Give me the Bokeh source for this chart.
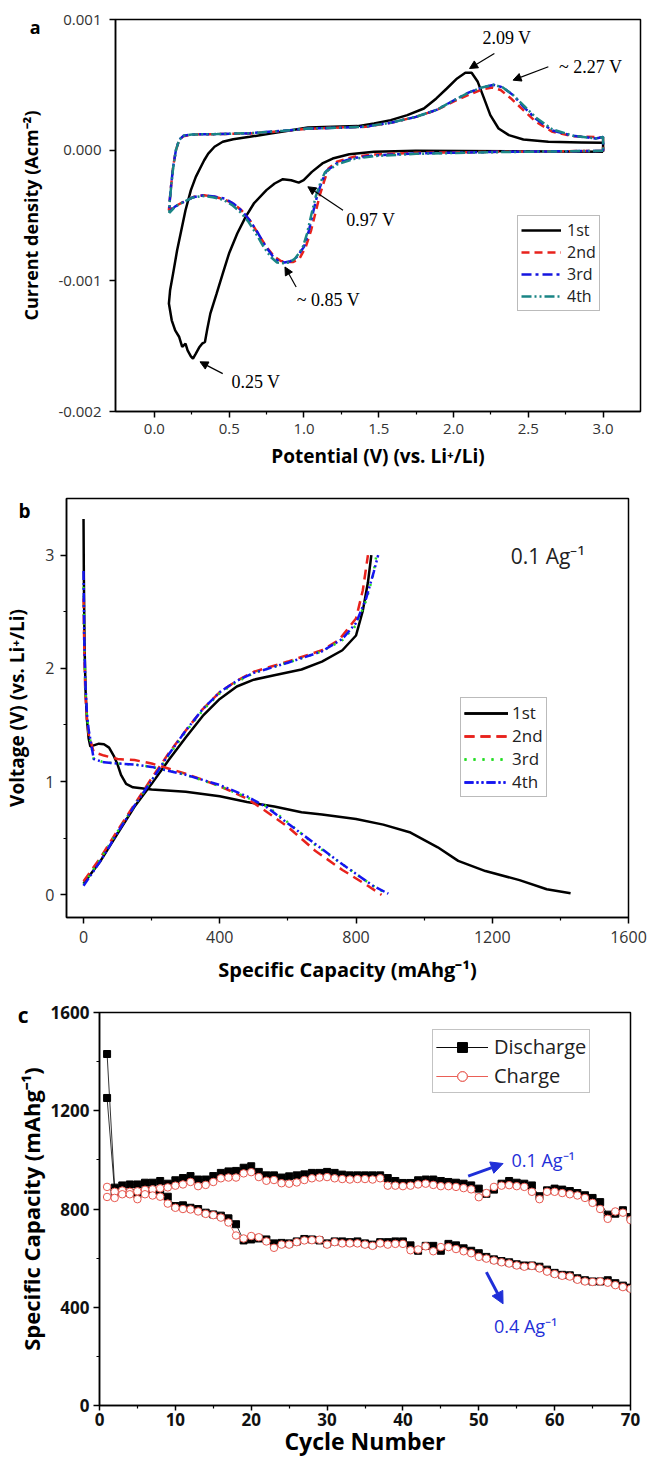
from bokeh.plotting import figure
from bokeh.layouts import column
from bokeh.models import (Range1d, FixedTicker, NumeralTickFormatter, Arrow, NormalHead, LinearAxis,
                          CustomJSTickFormatter)
from bokeh.embed import file_html
from bokeh.resources import INLINE
from bokeh.core.properties import value

# ================= Panel a : cyclic voltammetry =================
a_xticks = [0.0, 0.5, 1.0, 1.5, 2.0, 2.5, 3.0]
a_xminor = [0.25, 0.75, 1.25, 1.75, 2.25, 2.75]
a_yticks = [-0.002, -0.001, 0.0, 0.001]

cv1_v = [3.0, 1.747, 1.469, 1.303, 1.192, 1.123, 1.053, 0.998, 0.965, 0.915, 0.859, 0.804, 0.749,
         0.665, 0.61, 0.554, 0.499, 0.457, 0.416, 0.374, 0.352, 0.338, 0.319, 0.299, 0.277, 0.258,
         0.244, 0.222, 0.208, 0.186, 0.166, 0.139, 0.116, 0.097,
         0.105, 0.125, 0.152, 0.18, 0.208, 0.244, 0.277, 0.305, 0.333, 0.36, 0.402, 0.457, 0.527,
         0.638, 0.776, 0.915, 1.026, 1.192, 1.358, 1.469, 1.58, 1.691, 1.802, 1.885, 1.955, 2.024,
         2.079, 2.121, 2.162, 2.204, 2.246, 2.301, 2.37, 2.467, 2.634, 2.856, 3.0, 3.0]
cv1_i = [-0.000013, -0.000005, -0.000013, -0.000031, -0.000064, -0.000102, -0.000166, -0.00023,
         -0.000248, -0.00023, -0.000222, -0.000255, -0.000306, -0.000408, -0.000511, -0.000638,
         -0.000791, -0.000945, -0.001098, -0.001251, -0.001379, -0.001468, -0.001481, -0.001511,
         -0.001557, -0.001596, -0.001578, -0.001532, -0.001481, -0.001506, -0.00143, -0.001379,
         -0.001302, -0.001174,
         -0.001072, -0.000945, -0.000766, -0.000613, -0.00046, -0.000306, -0.000204, -0.00014,
         -0.000077, -0.000026, 0.000026, 0.000064, 0.000084, 0.000102, 0.000128, 0.000153, 0.000174,
         0.000179, 0.000184, 0.000204, 0.00023, 0.000268, 0.000319, 0.000396, 0.000472, 0.000549,
         0.000592, 0.000592, 0.000523, 0.000396, 0.000268, 0.000166, 0.000115, 0.000082, 0.000064,
         0.000059, 0.000056, -0.000013]

cv2_v = [3.0, 2.301, 1.747, 1.469, 1.331, 1.22, 1.164, 1.137, 1.109, 1.081, 1.048, 1.012, 0.97,
         0.929, 0.887, 0.846, 0.804, 0.749, 0.693, 0.638, 0.582, 0.527, 0.471, 0.402, 0.333, 0.263,
         0.194, 0.139, 0.097,
         0.103, 0.111, 0.125, 0.144, 0.166, 0.194, 0.25, 0.416, 0.638, 0.859, 1.026, 1.248, 1.414,
         1.58, 1.747, 1.885, 1.996, 2.107, 2.19, 2.26, 2.315, 2.384, 2.467, 2.551, 2.662, 2.8, 3.0, 3.0]
cv2_i = [-0.000005, -0.000013, -0.00002, -0.000033, -0.000051, -0.000089, -0.00014, -0.00023,
         -0.000332, -0.00046, -0.000613, -0.00074, -0.00083, -0.000855, -0.000855, -0.000848,
         -0.000817, -0.00074, -0.000638, -0.000536, -0.00046, -0.000408, -0.000378, -0.000357,
         -0.000345, -0.000357, -0.000396, -0.000429, -0.00046,
         -0.000383, -0.000281, -0.000128, 0.0, 0.000077, 0.000107, 0.00012, 0.000123, 0.000128,
         0.000146, 0.000163, 0.000174, 0.000179, 0.000209, 0.000255, 0.000306, 0.00037, 0.000426,
         0.000465, 0.00048, 0.00046, 0.000396, 0.000306, 0.000217, 0.00014, 0.000107, 0.000097,
         -0.000005]

cv3_v = [3.0, 2.3, 1.75, 1.47, 1.33, 1.22, 1.15, 1.12, 1.09, 1.06, 1.03, 1.0, 0.95, 0.91, 0.87,
         0.83, 0.79, 0.74, 0.69, 0.64, 0.59, 0.53, 0.47, 0.40, 0.33, 0.26, 0.19, 0.14, 0.1,
         0.103, 0.111, 0.125, 0.144, 0.166, 0.194, 0.25, 0.42, 0.64, 0.86, 1.03, 1.25, 1.41, 1.58,
         1.75, 1.89, 2.0, 2.1, 2.19, 2.27, 2.33, 2.4, 2.47, 2.55, 2.66, 2.8, 2.95, 3.0, 3.0]
cv3_i = [-0.000005, -0.000013, -0.000025, -0.00004, -0.00006, -0.0001, -0.00016, -0.00024,
         -0.00034, -0.00048, -0.00063, -0.00074, -0.00082, -0.00085, -0.00086, -0.00085, -0.00081,
         -0.00073, -0.00063, -0.00054, -0.00047, -0.00041, -0.00037, -0.000355, -0.000345,
         -0.00036, -0.0004, -0.00043, -0.00047,
         -0.00038, -0.00028, -0.00013, 0.0, 0.00008, 0.00011, 0.00012, 0.000123, 0.00013, 0.000148,
         0.000165, 0.000172, 0.00018, 0.00021, 0.000255, 0.00031, 0.00038, 0.00044, 0.00048,
         0.0005, 0.00048, 0.00042, 0.00033, 0.00024, 0.00015, 0.00011, 0.00009, 0.0001, -0.000005]

cv4_v = [3.0, 2.3, 1.75, 1.47, 1.33, 1.22, 1.14, 1.11, 1.08, 1.05, 1.02, 0.99, 0.94, 0.9, 0.86,
         0.82, 0.78, 0.73, 0.68, 0.63, 0.58, 0.52, 0.46, 0.39, 0.32, 0.25, 0.19, 0.14, 0.1,
         0.103, 0.111, 0.125, 0.144, 0.166, 0.194, 0.25, 0.42, 0.64, 0.86, 1.03, 1.25, 1.41, 1.58,
         1.75, 1.89, 2.0, 2.1, 2.19, 2.27, 2.33, 2.4, 2.47, 2.55, 2.66, 2.8, 2.95, 3.0, 3.0]
cv4_i = [-0.000005, -0.000015, -0.000028, -0.000045, -0.000068, -0.00011, -0.00017, -0.00025,
         -0.00035, -0.00049, -0.00064, -0.00075, -0.00083, -0.00086, -0.000865, -0.00086, -0.00082,
         -0.00074, -0.00064, -0.00055, -0.00048, -0.00042, -0.00038, -0.00036, -0.00035,
         -0.000365, -0.0004, -0.00043, -0.00048,
         -0.00039, -0.00029, -0.00014, 0.0, 0.00008, 0.00011, 0.00012, 0.000123, 0.00013, 0.000148,
         0.000165, 0.000172, 0.00018, 0.00021, 0.000255, 0.00031, 0.00038, 0.00044, 0.00048,
         0.0005, 0.00048, 0.00042, 0.00034, 0.00025, 0.00016, 0.00011, 0.00009, 0.0001, -0.000005]

cv_labels = ["1st", "2nd", "3rd", "4th"]

peak_text = ["2.09 V", "~ 2.27 V", "0.97 V", "~ 0.85 V", "0.25 V"]
peak_text_x = [2.357, 2.917, 1.447, 1.164, 0.679]
peak_text_y = [0.000855, 0.000638, -0.000536, -0.00115, -0.001774]
peak_tail_x = [2.273, 2.634, 1.261, 0.948, 0.457]
peak_tail_y = [0.00074, 0.000638, -0.00046, -0.001047, -0.00171]
peak_head_x = [2.107, 2.398, 1.026, 0.873, 0.305]
peak_head_y = [0.000625, 0.000536, -0.00028, -0.000894, -0.00162]

# ================= Panel b : charge / discharge profiles =================
b_xticks = [0, 400, 800, 1200, 1600]
b_xminor = [200, 600, 1000, 1400]
b_yticks = [0, 1, 2, 3]
b_yminor = [0.5, 1.5, 2.5]

b1_dis_c = [0, 1, 3, 6, 10, 15, 20, 30, 45, 60, 75, 90, 100, 110, 125, 145, 200, 300, 400, 480,
            560, 640, 700, 800, 880, 960, 1040, 1100, 1180, 1280, 1360, 1430]
b1_dis_v = [3.32, 2.8, 2.2, 1.8, 1.55, 1.38, 1.31, 1.32, 1.335, 1.33, 1.3, 1.22, 1.15, 1.06, 0.98,
            0.95, 0.93, 0.91, 0.87, 0.82, 0.78, 0.73, 0.71, 0.67, 0.62, 0.55, 0.42, 0.3, 0.21,
            0.13, 0.05, 0.015]
b1_chg_c = [0, 50, 100, 150, 200, 250, 300, 350, 400, 450, 500, 560, 640, 700, 760, 800, 820, 835, 845]
b1_chg_v = [0.1, 0.3, 0.54, 0.78, 0.98, 1.19, 1.39, 1.58, 1.73, 1.84, 1.9, 1.94, 1.99, 2.06, 2.16,
            2.29, 2.51, 2.76, 3.0]

b2_dis_c = [0, 2, 5, 10, 15, 30, 60, 100, 150, 200, 300, 400, 480, 530, 600, 680, 760, 840, 875]
b2_dis_v = [2.62, 2.2, 1.8, 1.55, 1.42, 1.26, 1.23, 1.2, 1.19, 1.16, 1.07, 0.96, 0.85, 0.75, 0.6,
            0.39, 0.22, 0.07, 0.0]
b2_chg_c = [0, 50, 100, 150, 200, 250, 300, 350, 400, 450, 500, 600, 700, 750, 800, 820, 835]
b2_chg_v = [0.12, 0.33, 0.57, 0.8, 1.03, 1.25, 1.45, 1.64, 1.79, 1.89, 1.97, 2.06, 2.16, 2.25,
            2.44, 2.69, 3.0]

b3_dis_c = [0, 2, 5, 10, 15, 30, 60, 100, 150, 200, 300, 400, 480, 540, 600, 680, 760, 850, 890]
b3_dis_v = [2.72, 2.25, 1.85, 1.58, 1.44, 1.2, 1.17, 1.16, 1.15, 1.13, 1.06, 0.96, 0.86, 0.78,
            0.64, 0.44, 0.27, 0.08, 0.01]
b3_chg_c = [0, 50, 100, 150, 200, 250, 300, 350, 400, 450, 500, 600, 700, 760, 800, 830, 850, 860]
b3_chg_v = [0.09, 0.32, 0.56, 0.79, 1.01, 1.23, 1.44, 1.63, 1.78, 1.88, 1.96, 2.05, 2.15, 2.25,
            2.38, 2.6, 2.82, 3.0]

b4_dis_c = [0, 2, 5, 10, 15, 30, 60, 100, 150, 200, 300, 400, 480, 540, 600, 680, 760, 850, 895]
b4_dis_v = [2.86, 2.3, 1.9, 1.6, 1.46, 1.2, 1.17, 1.16, 1.15, 1.13, 1.06, 0.97, 0.87, 0.77, 0.63,
            0.45, 0.27, 0.08, 0.01]
b4_chg_c = [0, 50, 100, 150, 200, 250, 300, 350, 400, 450, 500, 600, 700, 760, 800, 830, 852, 865]
b4_chg_v = [0.08, 0.3, 0.55, 0.79, 1.01, 1.24, 1.45, 1.64, 1.79, 1.89, 1.96, 2.05, 2.15, 2.26,
            2.4, 2.62, 2.85, 3.0]

b_rate_text = ["0.1 Ag⁻¹"]
b_rate_x = [1363]
b_rate_y = [2.99]

# ================= Panel c : cycling =================
c_xticks = [0, 10, 20, 30, 40, 50, 60, 70]
c_xminor = [5, 15, 25, 35, 45, 55, 65]
c_yticks = [0, 400, 800, 1200, 1600]
c_yminor = [200, 600, 1000, 1400]

cycles = list(range(1, 71))
dis_01 = [1431, 887, 896, 900, 900, 907, 907, 914, 903, 917, 926, 934, 920, 920, 934, 947, 953, 955,
          968, 974, 951, 937, 937, 928, 933, 937, 941, 947, 947, 951, 947, 940, 937, 937, 937, 937,
          937, 926, 914, 906, 906, 917, 920, 920, 914, 910, 907, 903, 896, 883, 862, 879, 903, 914,
          907, 903, 896, 852, 876, 883, 879, 873, 865, 856, 845, 828, 777, 781, 795, 767]
chg_01 = [890, 870, 875, 870, 872, 878, 880, 884, 888, 895, 900, 910, 893, 898, 910, 925, 928, 928,
          945, 950, 930, 915, 918, 905, 903, 908, 918, 925, 928, 930, 925, 922, 920, 922, 922, 920,
          925, 895, 895, 893, 895, 900, 903, 898, 893, 893, 890, 885, 880, 848, 865, 890, 895, 897,
          893, 890, 870, 840, 870, 870, 865, 860, 855, 845, 825, 800, 760, 790, 785, 755]
dis_04 = [1252, 870, 868, 866, 860, 875, 870, 870, 850, 812, 815, 805, 800, 785, 778, 773, 762, 738,
          672, 676, 680, 676, 660, 662, 660, 668, 678, 676, 672, 660, 668, 668, 665, 668, 660, 655,
          665, 665, 668, 668, 652, 630, 650, 650, 630, 658, 652, 640, 630, 620, 605, 595, 588, 583,
          575, 570, 570, 565, 553, 540, 532, 530, 518, 510, 505, 505, 510, 498, 488, 480]
chg_04 = [849, 845, 860, 860, 840, 860, 855, 850, 822, 805, 800, 798, 790, 780, 775, 765, 745, 692,
          680, 690, 685, 668, 642, 655, 655, 665, 672, 673, 675, 655, 665, 660, 660, 660, 655, 650,
          660, 655, 658, 658, 632, 635, 648, 628, 645, 645, 637, 628, 620, 605, 598, 590, 583, 578,
          570, 565, 568, 558, 545, 535, 528, 525, 512, 505, 503, 505, 500, 490, 482, 475]

c_rate_text = ["0.1 Ag⁻¹", "0.4 Ag⁻¹"]
c_rate_x = [54.3, 52.0]
c_rate_y = [1000, 322]
c_arrow_tail_x = [48.6, 51.0]
c_arrow_tail_y = [934, 543]
c_arrow_head_x = [53.2, 53.2]
c_arrow_head_y = [985, 414]

# panel letters (drawn as the single label of a bare outer axis)
panel_letters = ["a", "b", "c"]
letter_y = [0.000939, 3.394, 1588]
letter_shift = [-24, -29, -16]

FONT = "Open Sans"


def base_fig(height, xr, yr, borders):
    p = figure(width=650, height=height, x_range=Range1d(*xr), y_range=Range1d(*yr),
               output_backend="svg", toolbar_location=None,
               min_border_left=borders[0], min_border_right=borders[1],
               min_border_top=borders[2], min_border_bottom=borders[3])
    if "frame_align" in p.properties():
        p.frame_align = False
    p.xgrid.visible = False
    p.ygrid.visible = False
    p.outline_line_color = "black"
    p.outline_line_width = 1.5
    p.outline_line_alpha = 1.0
    p.background_fill_color = "white"
    p.border_fill_color = "white"
    for ax in (p.xaxis[0], p.yaxis[0]):
        ax.axis_line_width = 1.5
        ax.major_tick_in = 0
        ax.major_tick_out = 6
        ax.minor_tick_in = 0
        ax.minor_tick_out = 3
        ax.major_tick_line_width = 1.5
        ax.minor_tick_line_width = 1.2
        ax.axis_label_text_font = FONT
        ax.axis_label_text_font_style = "bold"
        ax.axis_label_text_color = "black"
        ax.major_label_text_font = FONT
    return p


def panel_letter(p, i, size):
    ax = LinearAxis(ticker=FixedTicker(ticks=[letter_y[i]], minor_ticks=[]),
                    formatter=CustomJSTickFormatter(code="return '%s';" % panel_letters[i]))
    ax.axis_line_color = None
    ax.major_tick_line_color = None
    ax.minor_tick_line_color = None
    ax.major_tick_in = 0
    ax.major_tick_out = 0
    ax.minor_tick_in = 0
    ax.minor_tick_out = 0
    ax.major_label_standoff = letter_shift[i]
    ax.major_label_text_font = FONT
    ax.major_label_text_font_style = "bold"
    ax.major_label_text_font_size = size
    ax.major_label_text_color = "black"
    p.add_layout(ax, "left")


# ---------------- Panel a ----------------
pa = base_fig(476, (-0.26, 3.25), (-0.002, 0.001), (115, 10, 19, 65))
pa.xaxis.ticker = FixedTicker(ticks=a_xticks, minor_ticks=a_xminor)
pa.yaxis.ticker = FixedTicker(ticks=a_yticks, minor_ticks=[])
pa.xaxis.formatter = NumeralTickFormatter(format="0.0")
pa.yaxis.formatter = NumeralTickFormatter(format="0.000")
pa.xaxis.axis_label = "Potential (V) (vs. Li⁺/Li)"
pa.yaxis.axis_label = "Current density (Acm⁻²)"
for ax in (pa.xaxis[0], pa.yaxis[0]):
    ax.major_label_text_font_size = "15px"
    ax.major_label_text_color = "#333333"
pa.xaxis.axis_label_text_font_size = "19px"
pa.yaxis.axis_label_text_font_size = "18px"
pa.xaxis.major_label_standoff = 6
pa.xaxis.axis_label_standoff = 6
pa.yaxis.major_label_standoff = 8
pa.yaxis.axis_label_standoff = 12

cv_styles = [("black", "solid"), ("#e8221c", "8 5"), ("#1515e0", "10 4 3 4"), ("#1a8585", "10 3 2 3 2 3")]
for (xs, ys), lab, (col, dash) in zip([(cv1_v, cv1_i), (cv2_v, cv2_i), (cv3_v, cv3_i), (cv4_v, cv4_i)],
                                       cv_labels, cv_styles):
    pa.line(xs, ys, line_color=col, line_dash=dash, line_width=2.5, legend_label=lab)

pa.text(peak_text_x, peak_text_y, text=peak_text, text_font=value("Liberation Serif"),
        text_font_size="18px", text_align="center", text_baseline="middle", text_color="black")
for tx, ty, hx, hy in zip(peak_tail_x, peak_tail_y, peak_head_x, peak_head_y):
    pa.add_layout(Arrow(x_start=tx, y_start=ty, x_end=hx, y_end=hy, line_color="black", line_width=1.2,
                        end=NormalHead(size=8, fill_color="black", line_color="black")))

lg = pa.legend[0]
lg.location = (402, 100)
lg.border_line_color = "#777777"
lg.border_line_width = 1.5
lg.padding = 3
lg.margin = 0
lg.spacing = 0
lg.glyph_width = 40
lg.glyph_height = 20
lg.label_height = 20
lg.label_standoff = 6
lg.label_text_font = FONT
lg.label_text_font_size = "16px"
lg.label_text_color = "#222222"
lg.background_fill_alpha = 1.0

panel_letter(pa, 0, "18px")

# ---------------- Panel b ----------------
pb = base_fig(512, (-50, 1600), (-0.2, 3.5), (66, 22, 22, 71))
pb.xaxis.ticker = FixedTicker(ticks=b_xticks, minor_ticks=b_xminor)
pb.yaxis.ticker = FixedTicker(ticks=b_yticks, minor_ticks=b_yminor)
pb.xaxis.axis_label = "Specific Capacity (mAhg⁻¹)"
pb.yaxis.axis_label = "Voltage (V) (vs. Li⁺/Li)"
for ax in (pb.xaxis[0], pb.yaxis[0]):
    ax.major_label_text_font_size = "16px"
    ax.major_label_text_color = "#333333"
pb.xaxis.axis_label_text_font_size = "20px"
pb.yaxis.axis_label_text_font_size = "19px"
pb.xaxis.major_label_standoff = 7
pb.xaxis.axis_label_standoff = 10
pb.yaxis.major_label_standoff = 6
pb.yaxis.axis_label_standoff = 12

gc_styles = [("black", "solid"), ("#e8221c", "10 6"), ("#22dd22", "2 7"), ("#1515f0", "9 3 2 3 2 3")]
gc_data = [(b1_dis_c, b1_dis_v, b1_chg_c, b1_chg_v), (b2_dis_c, b2_dis_v, b2_chg_c, b2_chg_v),
           (b3_dis_c, b3_dis_v, b3_chg_c, b3_chg_v), (b4_dis_c, b4_dis_v, b4_chg_c, b4_chg_v)]
for (dc, dv, cc, cv), lab, (col, dash) in zip(gc_data, cv_labels, gc_styles):
    pb.line(dc, dv, line_color=col, line_dash=dash, line_width=2.5, legend_label=lab)
    pb.line(cc, cv, line_color=col, line_dash=dash, line_width=2.5, legend_label=lab)

pb.text(b_rate_x, b_rate_y, text=b_rate_text, text_font=value(FONT), text_font_size="21px",
        text_align="center", text_baseline="middle", text_color="#222222")

lg = pb.legend[0]
lg.location = (394, 120)
lg.border_line_color = "#777777"
lg.border_line_width = 1.5
lg.padding = 3
lg.margin = 0
lg.spacing = 0
lg.glyph_width = 44
lg.glyph_height = 22
lg.label_height = 22
lg.label_standoff = 4
lg.label_text_font = FONT
lg.label_text_font_size = "17px"
lg.label_text_color = "#222222"

panel_letter(pb, 1, "19px")

# ---------------- Panel c ----------------
pc = base_fig(476, (0, 70), (0, 1600), (99, 20, 24, 59))
pc.xaxis.ticker = FixedTicker(ticks=c_xticks, minor_ticks=c_xminor)
pc.yaxis.ticker = FixedTicker(ticks=c_yticks, minor_ticks=c_yminor)
pc.xaxis.axis_label = "Cycle Number"
pc.yaxis.axis_label = "Specific Capacity (mAhg⁻¹)"
for ax in (pc.xaxis[0], pc.yaxis[0]):
    ax.major_label_text_font_size = "17px"
    ax.major_label_text_font_style = "bold"
    ax.major_label_text_color = "#111111"
pc.xaxis.axis_label_text_font_size = "23px"
pc.yaxis.axis_label_text_font_size = "22px"
pc.xaxis.major_tick_out = 5
pc.xaxis.major_label_standoff = 2
pc.xaxis.axis_label_standoff = -4
pc.yaxis.major_label_standoff = 4
pc.yaxis.axis_label_standoff = 2

RED = "#e8584f"
for ys in (dis_01, dis_04):
    pc.line(cycles, ys, line_color="black", line_width=0.8, legend_label="Discharge")
    pc.scatter(cycles, ys, marker="square", size=7, fill_color="black", line_color="black",
               legend_label="Discharge")
for ys in (chg_01, chg_04):
    pc.line(cycles, ys, line_color=RED, line_width=0.8, legend_label="Charge")
    pc.scatter(cycles, ys, marker="circle", size=7.5, fill_color="white", line_color=RED,
               line_width=1.0, legend_label="Charge")

BLUE = "#1f2fd8"
pc.text(c_rate_x, c_rate_y, text=c_rate_text, text_font=value(FONT), text_font_size="18px",
        text_align="left", text_baseline="middle", text_color=BLUE)
for tx, ty, hx, hy in zip(c_arrow_tail_x, c_arrow_tail_y, c_arrow_head_x, c_arrow_head_y):
    pc.add_layout(Arrow(x_start=tx, y_start=ty, x_end=hx, y_end=hy, line_color=BLUE, line_width=3,
                        end=NormalHead(size=12, fill_color=BLUE, line_color=BLUE)))

lg = pc.legend[0]
lg.location = (333, 312)
lg.border_line_color = "#888888"
lg.border_line_width = 1.5
lg.padding = 3
lg.margin = 0
lg.spacing = 2
lg.glyph_width = 52
lg.glyph_height = 24
lg.label_height = 24
lg.label_standoff = 6
lg.label_text_font = FONT
lg.label_text_font_size = "20px"
lg.label_text_color = "#222222"

panel_letter(pc, 2, "21px")

layout = column(pa, pb, pc, spacing=0)
open("out.html", "w").write(file_html(layout, INLINE))
